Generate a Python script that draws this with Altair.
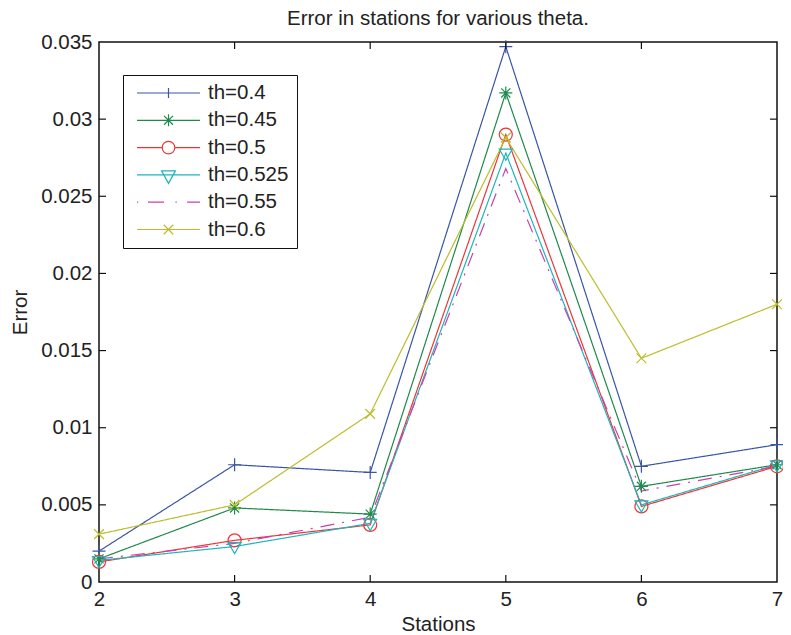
import altair as alt
import pandas as pd

# ---------------- data ----------------
stations = [2, 3, 4, 5, 6, 7]
series_names = ["th=0.4", "th=0.45", "th=0.5", "th=0.525", "th=0.55", "th=0.6"]
err_th040 = [0.0020, 0.0076, 0.0071, 0.0347, 0.0075, 0.0089]
err_th045 = [0.0015, 0.0048, 0.0044, 0.0317, 0.0062, 0.0076]
err_th050 = [0.0013, 0.0027, 0.0037, 0.0290, 0.0049, 0.0075]
err_th0525 = [0.0014, 0.0023, 0.0038, 0.0278, 0.0050, 0.0076]
err_th055 = [0.0015, 0.0025, 0.0042, 0.0268, 0.0059, 0.0075]
err_th060 = [0.0031, 0.0050, 0.0109, 0.0288, 0.0145, 0.0180]
all_errors = [err_th040, err_th045, err_th050, err_th0525, err_th055, err_th060]

y_tick_values = [0, 0.005, 0.01, 0.015, 0.02, 0.025, 0.03, 0.035]
x_inner_ticks = [3, 4, 5, 6]
y_inner_ticks = [0.005, 0.01, 0.015, 0.02, 0.025, 0.03]

# ---------------- tables ----------------
rows = []
for name, vals in zip(series_names, all_errors):
    for s, v in zip(stations, vals):
        rows.append({"station": s, "error": v, "series": name})
df = pd.DataFrame(rows)

ytick_df = pd.DataFrame([{"station": s, "error": v} for s in [2, 7] for v in y_inner_ticks])
xtick_df = pd.DataFrame([{"station": s, "error": v} for s in x_inner_ticks for v in [0, 0.035]])

# ---------------- styles ----------------
FONT = "Liberation Sans"
TXT = "#222222"
colors = ["#3a55a8", "#1f8a4c", "#ee3535", "#1db5be", "#cc3fae", "#bdbd2c"]
dashes = [[1, 0], [1, 0], [1, 0], [1, 0], [14, 8, 2, 8], [1, 0]]

marker_paths = [
    "M-1,0L1,0M0,-1L0,1",
    "M-1,0L1,0M0,-1L0,1M-0.7,-0.7L0.7,0.7M-0.7,0.7L0.7,-0.7",
    "M1,0A1,1 0 1,1 -1,0A1,1 0 1,1 1,0Z",
    "M-1,-0.6L1,-0.6L0,1.1Z",
    "M0,0",
    "M-0.75,-0.75L0.75,0.75M-0.75,0.75L0.75,-0.75",
]
legend_paths = [
    "M-1,0L1,0M0,-0.16L0,0.16",
    "M-1,0L1,0M0,-0.19L0,0.19M-0.14,-0.14L0.14,0.14M-0.14,0.14L0.14,-0.14",
    "M-1,0L-0.2,0M0.2,0L1,0M0.2,0A0.2,0.2 0 1,1 -0.2,0A0.2,0.2 0 1,1 0.2,0Z",
    "M-1,0L1,0M-0.22,-0.13L0.22,-0.13L0,0.27Z",
    "M-1,0L-0.96,0M-0.65,0L-0.14,0M0.22,0L0.26,0M0.59,0L1,0",
    "M-1,0L1,0M-0.15,-0.15L0.15,0.15M-0.15,0.15L0.15,-0.15",
]

x_scale = alt.Scale(domain=[2, 7], nice=False, zero=False)
y_scale = alt.Scale(domain=[0, 0.035], nice=False, zero=False)

x_axis = alt.Axis(values=stations, format="d", title="Stations", grid=False, domain=False,
                  ticks=False, labelPadding=7, titlePadding=5, labelFontSize=20.5,
                  titleFontSize=20.5, labelFont=FONT, titleFont=FONT, labelColor=TXT,
                  titleColor=TXT, titleFontWeight="normal", labelFlush=False)
y_axis = alt.Axis(values=y_tick_values, format="~g", title="Error", grid=False, domain=False,
                  ticks=False, labelPadding=7, titlePadding=10, labelFontSize=20.5,
                  titleFontSize=20.5, labelFont=FONT, titleFont=FONT, labelColor=TXT,
                  titleColor=TXT, titleFontWeight="normal", labelFlush=False)

X = alt.X("station:Q", scale=x_scale, axis=x_axis)
Y = alt.Y("error:Q", scale=y_scale, axis=y_axis)

color_scale = alt.Scale(domain=series_names, range=colors)

legend = alt.Legend(
    title=None, orient="none", legendX=24, legendY=33, padding=8,
    strokeColor="#111111", fillColor="white", clipHeight=20, rowPadding=6.3,
    symbolOffset=5, labelOffset=7, labelFontSize=20.5, labelFont=FONT,
    labelColor=TXT, symbolSize=3969, symbolStrokeWidth=1.2, labelLimit=300,
)

base = alt.Chart(df)

lines = base.mark_line(strokeWidth=1.2, opacity=1).encode(
    x=X, y=Y,
    color=alt.Color("series:N", scale=color_scale, legend=None),
    strokeDash=alt.StrokeDash("series:N", scale=alt.Scale(domain=series_names, range=dashes), legend=None),
    detail="series:N",
)

markers = base.transform_filter(alt.datum.series != "th=0.55").mark_point(
    filled=False, size=169, strokeWidth=1.2, opacity=1
).encode(
    x=X, y=Y,
    color=alt.Color("series:N", scale=color_scale, legend=None),
    shape=alt.Shape("series:N", scale=alt.Scale(domain=series_names, range=marker_paths), legend=None),
)

legend_layer = base.transform_filter("false").mark_point(
    filled=False, size=3969, strokeWidth=1.2, opacity=1
).encode(
    x=X, y=Y,
    color=alt.Color("series:N", scale=color_scale, legend=legend),
    shape=alt.Shape("series:N", scale=alt.Scale(domain=series_names, range=legend_paths), legend=legend),
)

ytick_layer = alt.Chart(ytick_df).mark_tick(
    orient="horizontal", size=14, thickness=1.2, clip=True, color="#111111", opacity=1
).encode(x=X, y=Y)

xtick_layer = alt.Chart(xtick_df).mark_tick(
    orient="vertical", size=14, thickness=1.2, clip=True, color="#111111", opacity=1
).encode(x=X, y=Y)

chart = alt.layer(lines, markers, legend_layer, ytick_layer, xtick_layer).resolve_scale(
    color="independent", shape="independent", strokeDash="independent"
).properties(
    width=678, height=540,
    title=alt.Title("Error in stations for various theta.", fontSize=20.5, fontWeight="normal",
                    font=FONT, color=TXT, offset=2.5, anchor="middle", frame="group"),
    autosize=alt.AutoSizeParams(type="none"),
    padding={"left": 91, "top": 34, "right": 6, "bottom": 53},
    background="white",
).configure_view(
    stroke="#111111", strokeWidth=1.5
)

chart.save("out.html", embed_options={"renderer": "svg", "actions": False})
